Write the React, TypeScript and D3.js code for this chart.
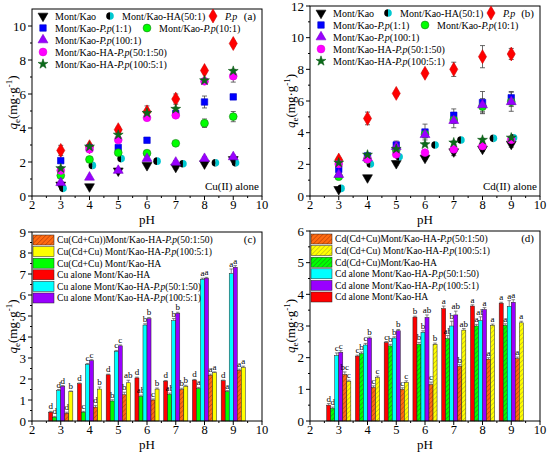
import React from "react";
import * as d3 from "d3";

// ---------------------------------------------------------------------------
// Data
// ---------------------------------------------------------------------------

const PH = [3, 4, 5, 6, 7, 8, 9];
// Mont/Kao-HA(50:1) points are drawn slightly to the right of the pH value
const HA_PH = [3.08, 4.1, 5.1, 6.35, 7.25, 8.38, 9.08];
const X_TICKS = [2, 3, 4, 5, 6, 7, 8, 9, 10];

const SCATTER_LABELS = [
  "Mont/Kao",
  "Mont/Kao-HA(50:1)",
  "P.p",
  "Mont/Kao-P.p(1:1)",
  "Mont/Kao-P.p(10:1)",
  "Mont/Kao-P.p(100:1)",
  "Mont/Kao-HA-P.p(50:1:50)",
  "Mont/Kao-HA-P.p(100:5:1)",
];

// (a) Cu(II) alone
const CU_MK = [0.65, 0.55, 1.48, 1.8, 1.7, 1.9, 2.15];
const CU_HA = [0.45, 1.8, 2.2, 2.05, 1.9, 1.95, 1.95];
const CU_PP = [2.68, 2.9, 3.9, 4.95, 5.7, 7.38, 8.97];
const CU_P11 = [2.08, 2.82, 2.85, 3.28, 4.85, 5.53, 5.83];
const CU_P101 = [1.2, 2.15, 2.55, 2.52, 3.1, 4.28, 4.67];
const CU_P1001 = [0.78, 1.1, 1.5, 2.2, 1.98, 2.2, 2.3];
const CU_HP50 = [1.5, 2.75, 3.3, 4.6, 4.75, 6.75, 7.05];
const CU_HP100 = [1.63, 2.9, 3.6, 4.88, 5.12, 6.8, 7.35];

const CU_MK_ERR = [0.05, 0.05, 0.1, 0.05, 0.1, 0.08, 0.1];
const CU_HA_ERR = [0.05, 0.08, 0.05, 0.05, 0.05, 0.05, 0.05];
const CU_PP_ERR = [0.3, 0.15, 0.15, 0.35, 0.3, 0.15, 0.15];
const CU_P11_ERR = [0.05, 0.1, 0.1, 0.1, 0.15, 0.35, 0.15];
const CU_P101_ERR = [0.1, 0.1, 0.1, 0.15, 0.1, 0.25, 0.3];
const CU_P1001_ERR = [0.05, 0.05, 0.05, 0.1, 0.1, 0.1, 0.1];
const CU_HP50_ERR = [0.1, 0.1, 0.1, 0.15, 0.1, 0.1, 0.35];
const CU_HP100_ERR = [0.1, 0.1, 0.1, 0.1, 0.1, 0.1, 0.1];

// (b) Cd(II) alone
const CD_MK = [0.42, 1.16, 2.06, 2.4, 2.8, 2.97, 3.28];
const CD_HA = [0.48, 2.02, 2.48, 3.22, 3.54, 3.64, 3.68];
const CD_PP = [2.27, 4.9, 6.48, 7.75, 8.0, 8.8, 8.97];
const CD_P11 = [1.68, 2.53, 3.22, 4.04, 5.1, 5.9, 6.2];
const CD_P101 = [1.22, 2.3, 2.9, 3.9, 4.8, 5.65, 5.95];
const CD_P1001 = [1.35, 2.4, 3.12, 3.87, 4.76, 5.75, 5.95];
const CD_HP50 = [2.02, 2.32, 2.63, 2.74, 2.95, 3.16, 3.55];
const CD_HP100 = [2.1, 2.6, 2.97, 3.26, 3.37, 3.54, 3.68];

const CD_MK_ERR = [0.05, 0.08, 0.1, 0.1, 0.25, 0.15, 0.2];
const CD_HA_ERR = [0.05, 0.08, 0.1, 0.08, 0.08, 0.08, 0.08];
const CD_PP_ERR = [0.15, 0.4, 0.15, 0.15, 0.45, 0.7, 0.35];
const CD_P11_ERR = [0.1, 0.1, 0.25, 0.5, 0.4, 0.7, 0.4];
const CD_P101_ERR = [0.1, 0.1, 0.1, 0.2, 0.2, 0.4, 0.6];
const CD_P1001_ERR = [0.1, 0.1, 0.15, 0.2, 0.45, 0.4, 0.3];
const CD_HP50_ERR = [0.1, 0.1, 0.1, 0.1, 0.1, 0.1, 0.1];
const CD_HP100_ERR = [0.1, 0.1, 0.1, 0.1, 0.1, 0.1, 0.1];

// (c) Cu: bars in drawing order red, green, cyan, purple, orange, yellow
const C_RED = [0.42, 1.78, 2.2, 2.05, 1.9, 1.95, 1.92];
const C_GREEN = [0.18, 0.42, 0.95, 1.17, 1.27, 1.55, 1.4];
const C_CYAN = [1.45, 2.7, 3.32, 4.57, 4.78, 6.75, 7.02];
const C_PURPLE = [1.65, 2.88, 3.58, 4.87, 5.13, 6.8, 7.32];
const C_ORANGE = [0.37, 0.66, 1.25, 1.0, 1.5, 2.18, 2.42];
const C_YELLOW = [1.4, 1.52, 1.82, 1.52, 1.65, 2.3, 2.55];

const C_RED_ERR = [0.04, 0.03, 0.03, 0.04, 0.03, 0.03, 0.03];
const C_GREEN_ERR = [0.04, 0.04, 0.06, 0.06, 0.06, 0.05, 0.05];
const C_CYAN_ERR = [0.05, 0.04, 0.04, 0.06, 0.1, 0.05, 0.22];
const C_PURPLE_ERR = [0.04, 0.04, 0.04, 0.06, 0.05, 0.04, 0.08];
const C_ORANGE_ERR = [0.05, 0.08, 0.12, 0.05, 0.06, 0.05, 0.05];
const C_YELLOW_ERR = [0.03, 0.1, 0.12, 0.05, 0.05, 0.04, 0.06];

const C_RED_LET = ["d", "d", "d", "d", "d", "d", "d"];
const C_GREEN_LET = ["d", "c", "b", "ab", "ab", "a", "a"];
const C_CYAN_LET = ["d", "c", "c", "b", "b", "a", "a"];
const C_PURPLE_LET = ["d", "c", "c", "b", "b", "a", "a"];
const C_ORANGE_LET = ["d", "d", "b", "c", "b", "a", "a"];
const C_YELLOW_LET = ["b", "b", "ab", "b", "b", "a", "a"];

// (d) Cd
const D_RED = [0.5, 2.05, 2.48, 3.28, 3.55, 3.63, 3.72];
const D_GREEN = [0.4, 2.13, 2.37, 2.42, 2.6, 3.0, 3.02];
const D_CYAN = [2.07, 2.4, 2.62, 2.8, 3.0, 3.17, 3.62];
const D_PURPLE = [2.17, 2.62, 2.85, 3.27, 3.35, 3.52, 3.75];
const D_ORANGE = [1.47, 1.06, 1.0, 1.15, 1.73, 1.95, 1.97];
const D_YELLOW = [1.25, 1.37, 1.22, 2.42, 2.87, 3.02, 3.1];

const D_RED_ERR = [0.05, 0.03, 0.03, 0.03, 0.08, 0.04, 0.03];
const D_GREEN_ERR = [0.04, 0.05, 0.05, 0.06, 0.1, 0.05, 0.05];
const D_CYAN_ERR = [0.08, 0.05, 0.04, 0.05, 0.15, 0.12, 0.18];
const D_PURPLE_ERR = [0.05, 0.03, 0.04, 0.08, 0.12, 0.06, 0.08];
const D_ORANGE_ERR = [0.08, 0.05, 0.05, 0.08, 0.05, 0.05, 0.05];
const D_YELLOW_ERR = [0.04, 0.05, 0.05, 0.04, 0.05, 0.04, 0.05];

const D_RED_LET = ["d", "c", "c", "b", "a", "a", "a"];
const D_GREEN_LET = ["d", "b", "b", "b", "ab", "a", "a"];
const D_CYAN_LET = ["c", "c", "b", "b", "b", "ab", "a"];
const D_PURPLE_LET = ["c", "b", "b", "ab", "ab", "a", "a"];
const D_ORANGE_LET = ["bc", "c", "c", "c", "b", "a", "a"];
const D_YELLOW_LET = ["c", "c", "c", "b", "ab", "a", "a"];

const C_LEGEND = [
  "Cu(Cd+Cu))Mont/Kao-HA-P.p(50:1:50)",
  "Cu(Cd+Cu) Mont/Kao-HA-P.p(100:5:1)",
  "Cu(Cd+Cu) Mont/Kao-HA",
  "Cu alone Mont/Kao-HA",
  "Cu alone Mont/Kao-HA-P.p(50:1:50)",
  "Cu alone Mont/Kao-HA-P.p(100:5:1)",
];
const D_LEGEND = [
  "Cd(Cd+Cu)Mont/Kao-HA-P.p(50:1:50)",
  "Cd(Cd+Cu) Mont/Kao-HA-P.p(100:5:1)",
  "Cd(Cd+Cu)Mont/Kao-HA",
  "Cd alone Mont/Kao-HA-P.p(50:1:50)",
  "Cd alone Mont/Kao-HA-P.p(100:5:1)",
  "Cd alone Mont/Kao-HA",
];

// ---------------------------------------------------------------------------
// Styles / layout
// ---------------------------------------------------------------------------

const FONT = "Liberation Serif, Times New Roman, serif";
const W = 550;
const H = 452;

type Box = { left: number; right: number; top: number; bottom: number };
const BOX_A: Box = { left: 32, right: 262, top: 9, bottom: 196 };
const BOX_B: Box = { left: 310, right: 540, top: 6, bottom: 196 };
const BOX_C: Box = { left: 32, right: 262, top: 232, bottom: 421 };
const BOX_D: Box = { left: 310, right: 540, top: 231, bottom: 421 };

const RED = "#ff0000";
const GREEN = "#00ff00";
const CYAN = "#00ffff";
const PURPLE = "#9900ff";
const ORANGE = "#ff6a10";
const YELLOW = "#ffff00";

type Kind = "triDown" | "half" | "diamond" | "square" | "circle" | "triUp" | "star";
const MARKERS: { kind: Kind; fill: string; stroke: string }[] = [
  { kind: "triDown", fill: "#000", stroke: "#000" },
  { kind: "half", fill: "#00c8d0", stroke: "none" },
  { kind: "diamond", fill: RED, stroke: "#d00000" },
  { kind: "square", fill: "#0000ff", stroke: "#0000cc" },
  { kind: "circle", fill: GREEN, stroke: "#1a7a1a" },
  { kind: "triUp", fill: PURPLE, stroke: "#7a00cc" },
  { kind: "circle", fill: "#ff00ff", stroke: "#e000e0" },
  { kind: "star", fill: "#0b6b1a", stroke: "#0b5a16" },
];
// legend slot per series: [row, x offset from plot left]
const LEGEND_SLOTS = [
  [0, 11], [0, 78], [0, 181], [1, 11], [1, 115], [2, 11], [3, 11], [4, 11],
];

// ---------------------------------------------------------------------------
// Helpers
// ---------------------------------------------------------------------------

function rich(label: string) {
  const parts = label.split("P.p");
  const out: React.ReactNode[] = [];
  parts.forEach((p, i) => {
    if (i > 0) out.push(<tspan key={`i${i}`} fontStyle="italic">P.p</tspan>);
    if (p) out.push(<tspan key={`t${i}`}>{p}</tspan>);
  });
  return out;
}

const triPath = d3.symbol().type(d3.symbolTriangle).size(42)() ?? "";
const diaPath = d3.symbol().type(d3.symbolDiamond).size(56)() ?? "";
const sqPath = d3.symbol().type(d3.symbolSquare).size(42)() ?? "";
const circPath = d3.symbol().type(d3.symbolCircle).size(48)() ?? "";
const starPath = d3.symbol().type(d3.symbolStar).size(30)() ?? "";

function Marker({ kind, x, y, fill, stroke }: { kind: Kind; x: number; y: number; fill: string; stroke: string }) {
  const t = `translate(${x},${y})`;
  if (kind === "half") {
    const r = 3.8;
    return (
      <g transform={t}>
        <path d={`M0,${-r}A${r},${r} 0 0 0 0,${r}Z`} fill="#000" />
        <path d={`M0,${-r}A${r},${r} 0 0 1 0,${r}Z`} fill={fill} />
      </g>
    );
  }
  const d =
    kind === "triDown" || kind === "triUp" ? triPath
    : kind === "diamond" ? diaPath
    : kind === "square" ? sqPath
    : kind === "star" ? starPath
    : circPath;
  return (
    <path
      d={d}
      transform={kind === "triDown" ? `${t} rotate(180)` : t}
      fill={fill}
      stroke={stroke}
      strokeWidth={0.6}
    />
  );
}

function Axes({
  box, x, y, yTicks, yMinor, tag,
}: {
  box: Box;
  x: d3.ScaleLinear<number, number>;
  y: d3.ScaleLinear<number, number>;
  yTicks: number[];
  yMinor: number[];
  tag: string;
}) {
  const xMinor = X_TICKS.slice(0, -1).map((t) => t + 0.5);
  const cy = (box.top + box.bottom) / 2;
  return (
    <g fontFamily={FONT} fill="#000">
      <rect
        x={box.left}
        y={box.top}
        width={box.right - box.left}
        height={box.bottom - box.top}
        fill="none"
        stroke="#000"
        strokeWidth={1}
      />
      {yTicks.map((t) => (
        <g key={`y${t}`}>
          <line x1={box.left - 4} x2={box.left} y1={y(t)} y2={y(t)} stroke="#000" />
          <text x={box.left - 6} y={y(t)} dy="0.35em" textAnchor="end" fontSize={13}>
            {t}
          </text>
        </g>
      ))}
      {yMinor.map((t) => (
        <line key={`ym${t}`} x1={box.left - 2} x2={box.left} y1={y(t)} y2={y(t)} stroke="#000" />
      ))}
      {X_TICKS.map((t) => (
        <g key={`x${t}`}>
          <line x1={x(t)} x2={x(t)} y1={box.bottom} y2={box.bottom + 4} stroke="#000" />
          <text x={x(t)} y={box.bottom + 13} textAnchor="middle" fontSize={12.5}>
            {t}
          </text>
        </g>
      ))}
      {xMinor.map((t) => (
        <line key={`xm${t}`} x1={x(t)} x2={x(t)} y1={box.bottom} y2={box.bottom + 2} stroke="#000" />
      ))}
      <text x={(box.left + box.right) / 2} y={box.bottom + 27.5} textAnchor="middle" fontSize={13}>
        pH
      </text>
      <text transform={`translate(${box.left - 15},${cy}) rotate(-90)`} textAnchor="middle" fontSize={13}>
        <tspan fontStyle="italic">q</tspan>
        <tspan fontSize={9} dy={3}>e</tspan>
        <tspan dy={-3}>(mg·g</tspan>
        <tspan fontSize={9} dy={-5}>-1</tspan>
        <tspan dy={5}>)</tspan>
      </text>
      <text x={box.right - 6} y={box.top + 11} textAnchor="end" fontSize={11}>
        {tag}
      </text>
    </g>
  );
}

type ScatterSeries = { xs: number[]; ys: number[]; err: number[] };

function ScatterPanel({
  box, yMax, series, tag, note,
}: {
  box: Box;
  yMax: number;
  series: ScatterSeries[];
  tag: string;
  note: string;
}) {
  const x = d3.scaleLinear().domain([2, 10]).range([box.left, box.right]);
  const y = d3.scaleLinear().domain([0, yMax]).range([box.bottom, box.top]);
  const yTicks = d3.range(0, yMax + 0.01, 2);
  const yMinor = d3.range(1, yMax, 2);
  return (
    <g>
      <Axes box={box} x={x} y={y} yTicks={yTicks} yMinor={yMinor} tag={tag} />
      {series.map((s, si) => (
        <g key={si}>
          {s.ys.map((v, i) => {
            const e = s.err[i];
            if (!e) return null;
            const cx = x(s.xs[i]);
            return (
              <g key={i} stroke="#444" strokeWidth={0.8}>
                <line x1={cx} x2={cx} y1={y(v - e)} y2={y(v + e)} />
                <line x1={cx - 2.5} x2={cx + 2.5} y1={y(v + e)} y2={y(v + e)} />
                <line x1={cx - 2.5} x2={cx + 2.5} y1={y(v - e)} y2={y(v - e)} />
              </g>
            );
          })}
        </g>
      ))}
      {series.map((s, si) => (
        <g key={`m${si}`}>
          {s.ys.map((v, i) => (
            <Marker key={i} {...MARKERS[si]} x={x(s.xs[i])} y={y(v)} />
          ))}
        </g>
      ))}
      {/* Legend */}
      <g fontFamily={FONT} fontSize={10}>
        {SCATTER_LABELS.map((lab, si) => {
          const [row, off] = LEGEND_SLOTS[si];
          const ly = box.top + 7 + row * 12;
          const lx = box.left + off;
          return (
            <g key={lab}>
              <Marker {...MARKERS[si]} x={lx} y={ly} />
              <text x={lx + 12} y={ly} dy="0.35em">
                {rich(lab)}
              </text>
            </g>
          );
        })}
      </g>
      <text x={box.right - 3} y={box.bottom - 6} textAnchor="end" fontFamily={FONT} fontSize={11}>
        {note}
      </text>
    </g>
  );
}

type BarSeries = { vals: number[]; err: number[]; letters: string[]; fill: string };

function BarPanel({
  box, yMax, bars, legend, legendFill, tag,
}: {
  box: Box;
  yMax: number;
  bars: BarSeries[];
  legend: string[];
  legendFill: string[];
  tag: string;
}) {
  const x = d3.scaleLinear().domain([2, 10]).range([box.left, box.right]);
  const y = d3.scaleLinear().domain([0, yMax]).range([box.bottom, box.top]);
  const yTicks = d3.range(0, yMax + 0.01, 1);
  const yMinor = d3.range(0.5, yMax, 1);
  const bw = x(2.14) - x(2);
  return (
    <g>
      {bars.map((b, bi) => (
        <g key={bi}>
          {b.vals.map((v, i) => {
            const x0 = x(PH[i]) + (bi - 3) * bw;
            const cx = x0 + bw / 2;
            const top = y(v + b.err[i]);
            return (
              <g key={i}>
                <rect x={x0} y={y(v)} width={bw} height={y(0) - y(v)} fill={b.fill} stroke="#222" strokeWidth={0.5} />
                <g stroke="#555" strokeWidth={0.7}>
                  <line x1={cx} x2={cx} y1={y(v)} y2={top} />
                  <line x1={cx - 1.8} x2={cx + 1.8} y1={top} y2={top} />
                </g>
                <text x={cx} y={top - 2} textAnchor="middle" fontFamily={FONT} fontSize={9}>
                  {b.letters[i]}
                </text>
              </g>
            );
          })}
        </g>
      ))}
      <Axes box={box} x={x} y={y} yTicks={yTicks} yMinor={yMinor} tag={tag} />
      <g fontFamily={FONT} fontSize={9.6}>
        {legend.map((lab, i) => {
          const ly = box.top + 8 + i * 11.6;
          return (
            <g key={lab}>
              <rect x={box.left + 1} y={ly - 5} width={21} height={10} fill={legendFill[i]} stroke="#222" strokeWidth={0.5} />
              <text x={box.left + 25} y={ly} dy="0.35em">
                {rich(lab)}
              </text>
            </g>
          );
        })}
      </g>
    </g>
  );
}

function Hatch({ id, base, line }: { id: string; base: string; line: string }) {
  return (
    <pattern id={id} width={3.2} height={3.2} patternUnits="userSpaceOnUse" patternTransform="rotate(45)">
      <rect width={3.2} height={3.2} fill={base} />
      <line x1={0} y1={0} x2={0} y2={3.2} stroke={line} strokeWidth={1.2} />
    </pattern>
  );
}

export default function App() {
  const cuSeries: ScatterSeries[] = [
    { xs: PH, ys: CU_MK, err: CU_MK_ERR },
    { xs: HA_PH, ys: CU_HA, err: CU_HA_ERR },
    { xs: PH, ys: CU_PP, err: CU_PP_ERR },
    { xs: PH, ys: CU_P11, err: CU_P11_ERR },
    { xs: PH, ys: CU_P101, err: CU_P101_ERR },
    { xs: PH, ys: CU_P1001, err: CU_P1001_ERR },
    { xs: PH, ys: CU_HP50, err: CU_HP50_ERR },
    { xs: PH, ys: CU_HP100, err: CU_HP100_ERR },
  ];
  const cdSeries: ScatterSeries[] = [
    { xs: PH, ys: CD_MK, err: CD_MK_ERR },
    { xs: HA_PH, ys: CD_HA, err: CD_HA_ERR },
    { xs: PH, ys: CD_PP, err: CD_PP_ERR },
    { xs: PH, ys: CD_P11, err: CD_P11_ERR },
    { xs: PH, ys: CD_P101, err: CD_P101_ERR },
    { xs: PH, ys: CD_P1001, err: CD_P1001_ERR },
    { xs: PH, ys: CD_HP50, err: CD_HP50_ERR },
    { xs: PH, ys: CD_HP100, err: CD_HP100_ERR },
  ];
  const cBars: BarSeries[] = [
    { vals: C_RED, err: C_RED_ERR, letters: C_RED_LET, fill: RED },
    { vals: C_GREEN, err: C_GREEN_ERR, letters: C_GREEN_LET, fill: GREEN },
    { vals: C_CYAN, err: C_CYAN_ERR, letters: C_CYAN_LET, fill: CYAN },
    { vals: C_PURPLE, err: C_PURPLE_ERR, letters: C_PURPLE_LET, fill: PURPLE },
    { vals: C_ORANGE, err: C_ORANGE_ERR, letters: C_ORANGE_LET, fill: "url(#hOrange)" },
    { vals: C_YELLOW, err: C_YELLOW_ERR, letters: C_YELLOW_LET, fill: YELLOW },
  ];
  const dBars: BarSeries[] = [
    { vals: D_RED, err: D_RED_ERR, letters: D_RED_LET, fill: RED },
    { vals: D_GREEN, err: D_GREEN_ERR, letters: D_GREEN_LET, fill: "url(#hGreen)" },
    { vals: D_CYAN, err: D_CYAN_ERR, letters: D_CYAN_LET, fill: CYAN },
    { vals: D_PURPLE, err: D_PURPLE_ERR, letters: D_PURPLE_LET, fill: PURPLE },
    { vals: D_ORANGE, err: D_ORANGE_ERR, letters: D_ORANGE_LET, fill: "url(#hOrange)" },
    { vals: D_YELLOW, err: D_YELLOW_ERR, letters: D_YELLOW_LET, fill: "url(#hYellow)" },
  ];
  return (
    <svg
      width={W}
      height={H}
      style={{ position: "absolute", left: 0, top: 0, background: "#fff" }}
    >
      <defs>
        <Hatch id="hOrange" base={ORANGE} line="#b8400a" />
        <Hatch id="hGreen" base={GREEN} line="#159a15" />
        <Hatch id="hYellow" base={YELLOW} line="#b8b020" />
      </defs>
      <rect width={W} height={H} fill="#fff" />
      <ScatterPanel box={BOX_A} yMax={11} series={cuSeries} tag="(a)" note="Cu(II) alone" />
      <ScatterPanel box={BOX_B} yMax={12} series={cdSeries} tag="(b)" note="Cd(II) alone" />
      <BarPanel
        box={BOX_C}
        yMax={9}
        bars={cBars}
        legend={C_LEGEND}
        legendFill={["url(#hOrange)", YELLOW, GREEN, RED, CYAN, PURPLE]}
        tag="(c)"
      />
      <BarPanel
        box={BOX_D}
        yMax={6}
        bars={dBars}
        legend={D_LEGEND}
        legendFill={["url(#hOrange)", "url(#hYellow)", "url(#hGreen)", CYAN, PURPLE, RED]}
        tag="(d)"
      />
    </svg>
  );
}
